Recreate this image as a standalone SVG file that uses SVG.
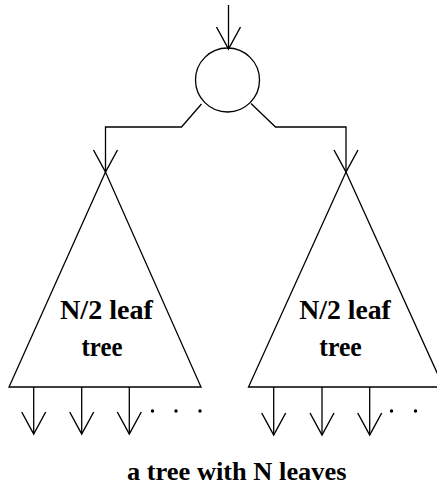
<svg xmlns="http://www.w3.org/2000/svg" width="437" height="489" viewBox="0 0 437 489">
<style>
.ln{fill:none;stroke:#000;stroke-width:1.3;stroke-linejoin:miter}
.lbl{font-family:"Liberation Serif","Times New Roman",serif;font-weight:bold;font-size:27px;fill:#000}
.cap{font-size:26px}
.dot{fill:#000}
</style>
<defs>
<marker id="v" markerUnits="userSpaceOnUse" orient="auto" refX="0" refY="0" markerWidth="30" markerHeight="30" viewBox="-25 -15 30 30" overflow="visible">
<path d="M-22,-12 L0,0 L-22,12" fill="none" stroke="#000" stroke-width="1.4"/>
</marker>
</defs>
<rect width="437" height="489" fill="#fff"/>
<g id="root">
<circle class="ln" cx="227.5" cy="80" r="32" stroke-width="1.5"/>
</g>
<g id="left-subtree">
<path class="ln" d="M105.5,172 L9,387 L201,387 Z"/>
<text class="lbl" x="60" y="319" textLength="93" lengthAdjust="spacingAndGlyphs">N/2 leaf</text>
<text class="lbl" x="81.5" y="356" textLength="41" lengthAdjust="spacingAndGlyphs">tree</text>
<circle class="dot" cx="152.5" cy="411" r="1.7"/>
<circle class="dot" cx="176" cy="411" r="1.7"/>
<circle class="dot" cx="200" cy="411" r="1.7"/>
</g>
<g id="right-subtree">
<path class="ln" d="M443.5,387 L346,172 L248.5,387 L437,387"/>
<text class="lbl" x="299.3" y="319" textLength="91.5" lengthAdjust="spacingAndGlyphs">N/2 leaf</text>
<text class="lbl" x="319.3" y="356" textLength="42.5" lengthAdjust="spacingAndGlyphs">tree</text>
<circle class="dot" cx="391.5" cy="411" r="1.7"/>
<circle class="dot" cx="415.5" cy="411" r="1.7"/>
</g>
<g id="caption">
<text class="lbl cap" x="127" y="480" textLength="219.5" lengthAdjust="spacingAndGlyphs">a tree with N leaves</text>
</g>
<g id="connectors" class="ln">
<path d="M228.5,5 L228.5,49" marker-end="url(#v)"/>
<path d="M201.5,104 L181.5,127 L105.5,127 L105.5,172" marker-end="url(#v)"/>
<path d="M251,103.5 L275.5,127 L346,127 L346,172" marker-end="url(#v)"/>
<path d="M33.7,387 L33.7,434" marker-end="url(#v)"/>
<path d="M81.7,387 L81.7,434" marker-end="url(#v)"/>
<path d="M129.3,387 L129.3,434" marker-end="url(#v)"/>
<path d="M273.7,387 L273.7,435" marker-end="url(#v)"/>
<path d="M322,387 L322,435" marker-end="url(#v)"/>
<path d="M369.7,387 L369.7,435" marker-end="url(#v)"/>
</g>
</svg>
